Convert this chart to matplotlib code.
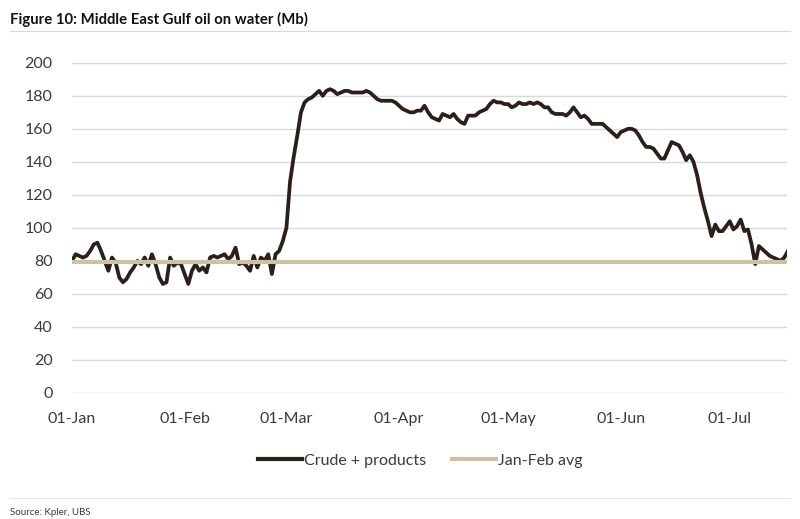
import numpy as np
import pandas as pd
import matplotlib
matplotlib.use("Agg")
import matplotlib.pyplot as plt
import matplotlib.dates as mdates
from matplotlib.lines import Line2D

# daily oil on water (Mb), 01-Jan onwards
crude = [
    80, 84, 83, 82, 83, 86, 90, 91, 86, 80,
    74, 82, 79, 70, 67, 69, 73, 76, 80, 78,
    82, 77, 84, 78, 70, 66, 67, 82, 77, 79,
    78, 72, 66, 74, 78, 74, 76, 73, 82, 83,
    82, 83, 84, 81, 83, 88, 78, 79, 77, 74,
    83, 76, 82, 80, 84, 72, 84, 86, 92, 100,
    128, 143, 156, 170, 176, 178, 179, 181, 183, 180,
    183, 184, 183, 181, 182, 183, 183, 182, 182, 182,
    182, 183, 182, 180, 178, 177, 177, 177, 177, 176,
    174, 172, 171, 170, 170, 171, 171, 174, 170, 167,
    166, 165, 169, 168, 167, 169, 166, 164, 163, 168,
    168, 168, 170, 171, 172, 175, 177, 176, 176, 175,
    175, 173, 174, 176, 175, 175, 176, 175, 176, 175,
    173, 173, 170, 169, 169, 169, 168, 170, 173, 170,
    167, 168, 166, 163, 163, 163, 163, 161, 159, 157,
    155, 158, 159, 160, 160, 159, 156, 152, 149, 149,
    148, 145, 142, 142, 147, 152, 151, 150, 146, 141,
    144, 140, 132, 121, 112, 104, 95, 102, 98, 98,
    101, 104, 99, 101, 105, 98, 99, 90, 78, 89,
    87, 85, 83, 82, 81, 80, 82, 86,
]
jan_feb_avg = 79
dates = pd.date_range("2025-01-01", periods=len(crude), freq="D")

y_ticks = list(range(0, 201, 20))
series_names = ["Crude + products", "Jan-Feb avg"]

CRUDE_COL = "#2b2019"
AVG_COL = "#cbc3a2"
TXT = "#3a3a3a"

plt.rcParams["font.family"] = ["Lato", "DejaVu Sans"]

fig = plt.figure(figsize=(8, 5.19), dpi=100)
ax = fig.add_axes([0.09, 0.243, 0.894, 0.636])

ax.plot(dates, crude, color=CRUDE_COL, lw=2.7, solid_joinstyle="round", zorder=3)
ax.plot(dates, [jan_feb_avg] * len(dates), color=AVG_COL, lw=3.0, zorder=4)

ax.set_ylim(0, 200)
ax.set_yticks(y_ticks)
ax.set_xlim(dates[0], dates[0] + pd.Timedelta(days=196.8))
ax.xaxis.set_major_locator(mdates.MonthLocator())
ax.xaxis.set_major_formatter(mdates.DateFormatter("%d-%b"))

ax.grid(axis="y", color="#d9d9d9", lw=1)
ax.set_axisbelow(True)
for s in ax.spines.values():
    s.set_visible(False)
ax.tick_params(length=0, labelsize=11.5, labelcolor=TXT)
ax.tick_params(axis="y", pad=14)
ax.tick_params(axis="x", pad=14)

handles = [Line2D([], [], color=CRUDE_COL, lw=3), Line2D([], [], color=AVG_COL, lw=3)]
fig.legend(handles, series_names, loc="center", bbox_to_anchor=(0.525, 0.112),
           ncol=2, frameon=False, fontsize=11.5, handlelength=2.8,
           handletextpad=0.1, columnspacing=1.6, labelcolor=TXT)

fig.text(0.013, 0.962, "Figure 10: Middle East Gulf oil on water (Mb)",
         fontsize=10.7, fontweight="bold", color="#111111", va="center")
fig.add_artist(Line2D([0.013, 0.988], [0.940, 0.940], color="#d9d9d9", lw=0.8))
fig.add_artist(Line2D([0.013, 0.988], [0.040, 0.040], color="#e3e3e3", lw=0.8))
fig.text(0.013, 0.012, "Source: Kpler, UBS", fontsize=7, color=TXT, va="center")

fig.savefig("out.png", dpi=100)
